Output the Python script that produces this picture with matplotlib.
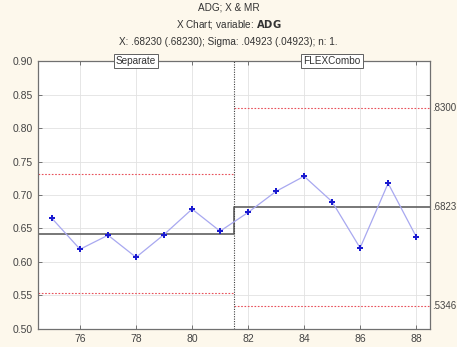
import numpy as np
import matplotlib.pyplot as plt

plt.rcParams['font.family'] = ['Liberation Sans', 'DejaVu Sans']

# observations
sample = list(range(75, 89))
adg = [0.665, 0.619, 0.640, 0.607, 0.641, 0.679, 0.646,
       0.674, 0.7055, 0.728, 0.690, 0.621, 0.7175, 0.638]

# phases: name, start, end, centre, lcl, ucl
phase_names = ["Separate", "FLEXCombo"]
phase_start = [74.5, 81.5]
phase_end = [81.5, 88.5]
centre = [0.6424, 0.6823]
lcl = [0.5530, 0.5346]
ucl = [0.7318, 0.8300]
right_labels = [".8300", ".6823", ".5346"]

fig = plt.figure(figsize=(4.57, 3.47), dpi=100, facecolor="#fdf8ec")
ax = fig.add_axes([0.0832, 0.052, 0.858, 0.772])
ax.set_facecolor("white")

# grid
ax.grid(True, color="#e2e2e2", lw=0.6)
ax.set_axisbelow(True)

# control limits
for i in range(len(phase_names)):
    ax.plot([phase_start[i], phase_end[i]], [ucl[i], ucl[i]], color="#e8505a", lw=0.8, ls=(0, (1.5, 1.5)))
    ax.plot([phase_start[i], phase_end[i]], [lcl[i], lcl[i]], color="#e8505a", lw=0.8, ls=(0, (1.5, 1.5)))

# centre line as a step
cx = [phase_start[0], phase_end[0], phase_start[1], phase_end[1]]
cy = [centre[0], centre[0], centre[1], centre[1]]
ax.plot(cx, cy, color="#606060", lw=1.2)

# phase divider
ax.axvline(phase_end[0], color="#404040", lw=0.8, ls=(0, (1, 1.2)))

# data
ax.plot(sample, adg, color="#a8a8f0", lw=0.9, zorder=3)
ax.plot(sample, adg, ls="none", marker="P", ms=4.2, color="#1a1ad0",
        markeredgewidth=0, zorder=4)

ax.set_xlim(74.5, 88.5)
ax.set_ylim(0.50, 0.90)
ax.set_xticks(np.arange(76, 89, 2))
ax.set_yticks(np.arange(0.50, 0.901, 0.05))
ax.yaxis.set_major_formatter(plt.FormatStrFormatter("%.2f"))
ax.tick_params(direction="in", length=3, width=0.6, color="#606060",
               labelsize=7.5, labelcolor="#444444", top=True, right=True)
for s in ax.spines.values():
    s.set_color("#707070")
    s.set_linewidth(0.9)

# phase labels on the top spine
for i, name in enumerate(phase_names):
    mid = (phase_start[i] + phase_end[i]) / 2
    ax.text(mid, 0.90, name, ha="center", va="center", fontsize=7.2, color="#333333",
            bbox=dict(boxstyle="square,pad=0.2", fc="white", ec="#606060", lw=0.7),
            clip_on=False, zorder=6)

# limit values on the right
for val, lab in zip([ucl[1], centre[1], lcl[1]], right_labels):
    ax.text(1.004, val, lab, transform=ax.get_yaxis_transform(), ha="left", va="center",
            fontsize=7, color="#444444", clip_on=False)

fig.text(0.5, 0.977, "ADG; X & MR", ha="center", va="center", fontsize=7.2, color="#333333")
fig.text(0.5, 0.930, "X Chart; variable: $\\mathbf{ADG}$", ha="center", va="center",
         fontsize=7.2, color="#333333")
fig.text(0.5, 0.878, "X: .68230 (.68230); Sigma: .04923 (.04923); n: 1.", ha="center",
         va="center", fontsize=7.2, color="#333333")

fig.savefig("out.png", dpi=100, facecolor=fig.get_facecolor())
